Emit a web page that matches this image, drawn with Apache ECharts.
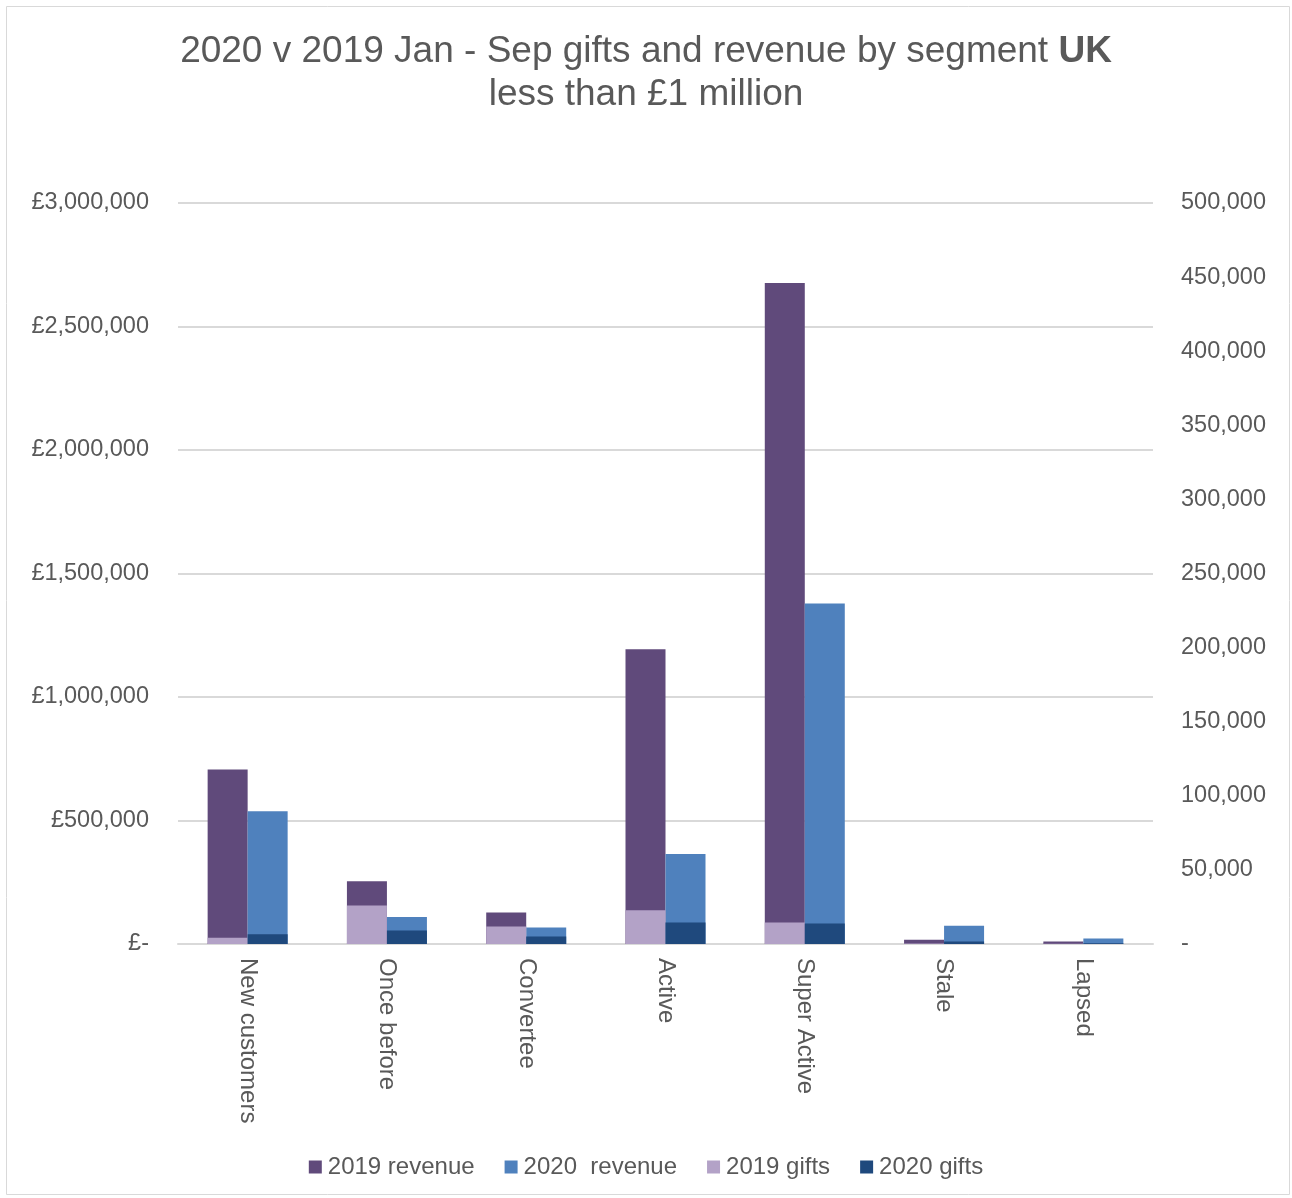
<!DOCTYPE html>
<html>
<head>
<meta charset="utf-8">
<script src="https://cdn.jsdelivr.net/npm/echarts@6/dist/echarts.min.js"></script>
<style>
  html, body { margin: 0; padding: 0; background: #fff; }
  #chart { width: 1292px; height: 1198px; }
</style>
</head>
<body>
<div id="chart"></div>
<script>
// segments
const segments = ['New customers', 'Once before', 'Convertee', 'Active', 'Super Active', 'Stale', 'Lapsed'];
// revenue (£, left axis)
const revenue2019 = [706000, 254000, 128000, 1193000, 2676000, 17000, 10000];
const revenue2020 = [537000, 109000, 67000, 364000, 1379000, 74000, 22000];
// gifts (count, right axis)
const gifts2019 = [4200, 26000, 11800, 22800, 14500, 400, 200];
const gifts2020 = [6600, 9100, 5100, 14500, 13800, 1700, 500];

const textColor = '#595959';
const fontFamily = 'Arial, "Liberation Sans", sans-serif';

const dom = document.getElementById('chart');
const myChart = echarts.init(dom);

const option = {
  animation: false,
  textStyle: { fontFamily: fontFamily },
  title: {
    left: 'center',
    top: 25,
    text: '2020 v 2019 Jan - Sep gifts and revenue by segment {b|UK}\nless than £1 million',
    textStyle: {
      color: textColor,
      fontSize: 37,
      fontWeight: 'normal',
      lineHeight: 43,
      rich: {
        b: { fontSize: 37, fontWeight: 'bold', color: textColor, lineHeight: 43 }
      }
    }
  },
  graphic: [{
    type: 'rect',
    shape: { x: 6.5, y: 6.5, width: 1283, height: 1188 },
    style: { fill: 'none', stroke: '#d9d9d9', lineWidth: 1 },
    silent: true
  }],
  legend: {
    bottom: 14,
    left: 'center',
    itemWidth: 13,
    itemHeight: 13,
    itemGap: 30,
    icon: 'rect',
    textStyle: { color: textColor, fontSize: 24, padding: [0, 0, 0, 1] },
    data: ['2019 revenue', '2020  revenue', '2019 gifts', '2020 gifts']
  },
  grid: { left: 178, right: 139, top: 203, bottom: 254 },
  xAxis: [{
    type: 'category',
    data: segments,
    axisTick: { show: false },
    axisLine: { lineStyle: { color: '#d9d9d9', width: 2 } },
    axisLabel: { rotate: -90, color: textColor, fontSize: 24, margin: 14, interval: 0 }
  }, {
    type: 'category',
    data: segments,
    show: false
  }],
  yAxis: [{
    type: 'value',
    min: 0,
    max: 3000000,
    interval: 500000,
    axisLine: { show: false },
    axisTick: { show: false },
    splitLine: { lineStyle: { color: '#d9d9d9', width: 2 } },
    axisLabel: {
      color: textColor,
      fontSize: 23.5,
      margin: 29,
      formatter: function (v) {
        return v === 0 ? '£-' : '£' + v.toLocaleString('en-GB');
      }
    }
  }, {
    type: 'value',
    min: 0,
    max: 500000,
    interval: 50000,
    position: 'right',
    axisLine: { show: false },
    axisTick: { show: false },
    splitLine: { show: false },
    axisLabel: {
      color: textColor,
      fontSize: 23.5,
      margin: 28,
      align: 'left',
      formatter: function (v) {
        return v === 0 ? '-' : v.toLocaleString('en-GB');
      }
    }
  }],
  series: [{
    name: '2019 revenue',
    type: 'bar',
    xAxisIndex: 0,
    yAxisIndex: 0,
    data: revenue2019,
    barWidth: 40,
    barGap: '0%',
    itemStyle: { color: '#604A7B' }
  }, {
    name: '2020  revenue',
    type: 'bar',
    xAxisIndex: 0,
    yAxisIndex: 0,
    data: revenue2020,
    barWidth: 40,
    barGap: '0%',
    itemStyle: { color: '#4F81BD' }
  }, {
    name: '2019 gifts',
    type: 'bar',
    xAxisIndex: 1,
    yAxisIndex: 1,
    data: gifts2019,
    barWidth: 40,
    barGap: '0%',
    z: 3,
    itemStyle: { color: '#B3A2C7' }
  }, {
    name: '2020 gifts',
    type: 'bar',
    xAxisIndex: 1,
    yAxisIndex: 1,
    data: gifts2020,
    barWidth: 40,
    barGap: '0%',
    z: 3,
    itemStyle: { color: '#1F497D' }
  }]
};

myChart.setOption(option, true);
</script>
</body>
</html>
